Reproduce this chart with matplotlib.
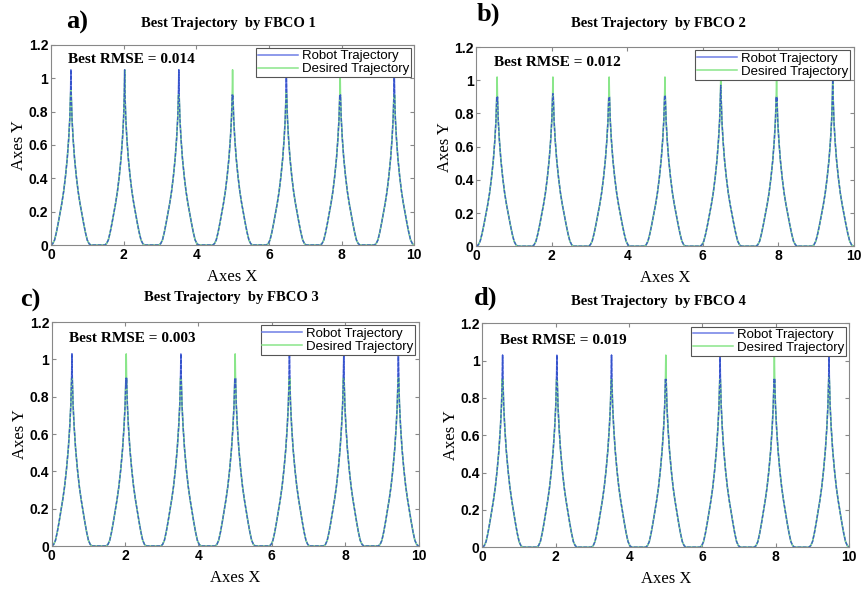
#!/usr/bin/env python3

import numpy as np
import matplotlib
matplotlib.use("Agg")
import matplotlib.pyplot as plt

# peak centres along X
peak_x = [0.55, 2.03, 3.52, 5.00, 6.48, 7.96, 9.45]

# half profile of one peak: offset from centre -> Y
prof_d = [0.0, 0.01, 0.03, 0.06, 0.10, 0.15, 0.20, 0.25, 0.30, 0.35, 0.40, 0.45, 0.50, 0.55]
prof_y = [1.04, 0.90, 0.76, 0.64, 0.52, 0.41, 0.32, 0.25, 0.19, 0.13, 0.075, 0.03, 0.008, 0.0]

# tip height of every peak, per panel
robot_tips = [
    [1.05, 1.05, 1.05, 0.89, 1.05, 0.89, 1.05],
    [0.88, 0.92, 0.90, 0.91, 0.97, 0.87, 1.02],
    [1.03, 0.85, 1.03, 0.86, 1.03, 1.03, 1.03],
    [1.03, 1.03, 1.03, 0.89, 1.03, 0.88, 1.03],
]
desired_tips = [
    [0.93, 1.05, 0.87, 1.05, 0.92, 1.05, 0.85],
    [1.02, 1.02, 1.02, 1.02, 1.02, 1.02, 1.02],
    [0.88, 1.03, 0.87, 1.03, 0.82, 0.86, 0.88],
    [0.86, 0.88, 0.89, 1.03, 0.90, 1.03, 0.92],
]

panel_tags = ["a)", "b)", "c)", "d)"]
titles = ["Best Trajectory  by FBCO 1", "Best Trajectory  by FBCO 2",
          "Best Trajectory  by FBCO 3", "Best Trajectory  by FBCO 4"]
rmse = ["0.014", "0.012", "0.003", "0.019"]

# axes rectangles in figure fraction
rects = [
    [0.059, 0.584, 0.421, 0.340],
    [0.552, 0.582, 0.437, 0.338],
    [0.060, 0.073, 0.425, 0.380],
    [0.559, 0.071, 0.425, 0.380],
]
# panel tag / title positions in pixels (x, y from top)
tag_pos = [(66, 22), (477, 14), (20, 300), (474, 298)]
title_pos = [(228, 24), (658, 23), (231, 297), (658, 302)]

SERIF = "Liberation Serif"
SANS = "Liberation Sans"


def build_curve(tips):
    xs, ys = [], []
    d = np.array(prof_d)
    for c, h in zip(peak_x, tips):
        y = np.array(prof_y)
        y[0] = h
        xs.extend(list(c - d[::-1]) + list(c + d[1:]))
        ys.extend(list(y[::-1]) + list(y[1:]))
    return np.array(xs), np.array(ys)


W, H = 863, 589
fig = plt.figure(figsize=(W / 100, H / 100), dpi=100)

for i in range(4):
    ax = fig.add_axes(rects[i])
    xr, yr = build_curve(robot_tips[i])
    xd, yd = build_curve(desired_tips[i])
    ax.plot(xr, yr, color="#6f7fe6", lw=1.1, label="Robot Trajectory")
    ax.plot(xd, yd, color="#8ae68a", lw=1.1, label="Desired Trajectory")
    # overlap of the two lines shows as a dark blue broken line
    ax.plot(xr, yr, color="#2f4fc8", lw=0.9, ls=(0, (3, 1.2)), alpha=0.9)
    ax.set_xlim(0, 10)
    ax.set_ylim(0, 1.2)
    ax.set_xticks([0, 2, 4, 6, 8, 10])
    ax.set_yticks([0, 0.2, 0.4, 0.6, 0.8, 1.0, 1.2])
    ax.set_yticklabels(["0", "0.2", "0.4", "0.6", "0.8", "1", "1.2"])
    ax.tick_params(direction="in", top=True, right=True, length=3,
                   color="#888888", labelsize=10, pad=2)
    for lab in ax.get_xticklabels() + ax.get_yticklabels():
        lab.set_fontfamily(SANS)
        lab.set_fontweight("bold")
    for s in ax.spines.values():
        s.set_color("#888888")
    ax.set_xlabel("Axes X", fontfamily=SERIF, fontsize=12, labelpad=5)
    ax.set_ylabel("Axes Y", fontfamily=SERIF, fontsize=12, labelpad=1)
    ax.text(0.047, 0.925, "Best RMSE = " + rmse[i], transform=ax.transAxes,
            fontfamily=SERIF, fontweight="bold", fontsize=11, va="center")
    leg = ax.legend(loc="upper right", prop={"family": SANS, "size": 9.5},
                    handlelength=3.0, handletextpad=0.3, borderpad=0.15,
                    labelspacing=0.05, borderaxespad=0.25, fancybox=False,
                    framealpha=1)
    leg.get_frame().set_edgecolor("#555555")
    leg.get_frame().set_linewidth(0.8)
    fig.text(tag_pos[i][0] / W, 1 - tag_pos[i][1] / H, panel_tags[i],
             fontfamily=SERIF, fontweight="bold", fontsize=19,
             ha="left", va="center")
    fig.text(title_pos[i][0] / W, 1 - title_pos[i][1] / H, titles[i],
             fontfamily=SERIF, fontweight="bold", fontsize=10.5,
             ha="center", va="center")

fig.savefig("out.png", dpi=100)
